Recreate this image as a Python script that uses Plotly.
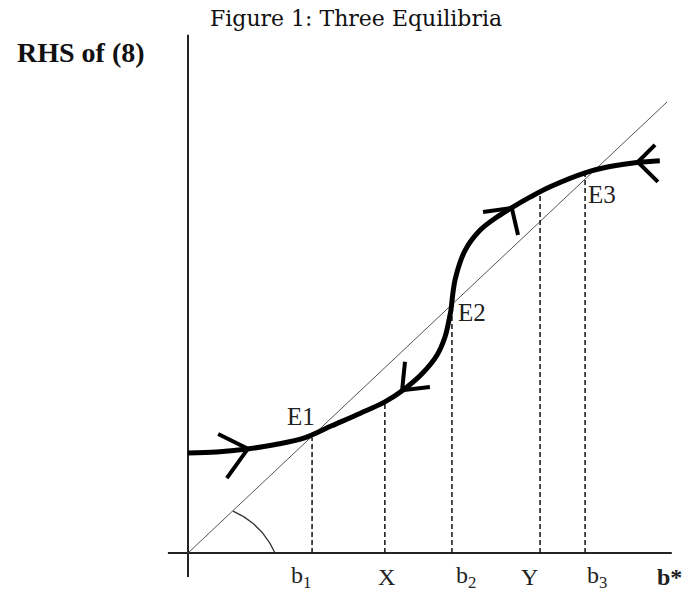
import numpy as np
import plotly.graph_objects as go

# ---- Data (diagram units: origin at axes crossing, 45-degree line is y = x) ----
title_text = "Figure 1: Three Equilibria"
y_axis_label = "RHS of (8)"
x_axis_label = "b*"

# thick S-shaped RHS curve
curve_x = [0.0, 6.0, 12.0, 18.0, 24.0, 30.0, 36.0, 41.1, 45.0, 49.0, 52.0, 53.65, 54.5, 54.9,
           55.3, 55.8, 57.8, 61.0, 64.5, 67.8, 71.4, 75.6, 82.9, 88.1, 93.7, 98.5]
curve_y = [22.2, 22.4, 23.0, 24.0, 25.4, 28.2, 31.0, 33.5, 36.2, 39.9, 43.9, 47.9, 51.7, 53.9,
           57.6, 60.8, 67.0, 71.6, 74.5, 76.7, 78.9, 81.2, 84.3, 85.7, 86.6, 87.0]

# 45-degree line
diag_x = [0, 100]
diag_y = [0, 100]

# arrowheads on curve: (arm1, vertex, arm2)
arrow_heads = [
    ([6.3, 12.5, 8.1], [26.4, 23.1, 16.6]),
    ([45.3, 44.7, 50.5], [42.4, 36.1, 36.8]),
    ([61.6, 67.6, 68.9], [75.6, 76.5, 70.5]),
    ([97.5, 93.9, 98.1], [90.5, 86.7, 82.3]),
]

# dashed drop lines
drop_names = ["b<sub>1</sub>", "X", "b<sub>2</sub>", "Y", "b<sub>3</sub>"]
drop_x = [25.9, 41.1, 55.1, 73.5, 82.9]
drop_top = [25.6, 33.4, 53.4, 79.4, 84.0]
label_x = [23.6, 41.4, 58.0, 71.3, 85.3]

# equilibrium labels
eq_names = ["E1", "E2", "E3"]
eq_x = [23.6, 59.3, 86.4]
eq_y = [30.2, 53.4, 79.4]

# axis extents
h_axis_x = [-4.2, 101.0]
v_axis_y = [-5.3, 114.9]

# angle arc (ellipse in diagram units)
arc_center = (2.71, -7.1)
arc_r = (16.83, 17.87)
arc_angles = (23.4, 66.6)

# ---- Figure ----
fig = go.Figure()
serif = "Liberation Serif, Times New Roman, serif"

# axes
fig.add_trace(go.Scatter(x=h_axis_x, y=[0, 0], mode="lines",
                         line=dict(color="#222222", width=2), hoverinfo="skip"))
fig.add_trace(go.Scatter(x=[0, 0], y=v_axis_y, mode="lines",
                         line=dict(color="#222222", width=2), hoverinfo="skip"))
# diagonal
fig.add_trace(go.Scatter(x=diag_x, y=diag_y, mode="lines",
                         line=dict(color="#555555", width=1), hoverinfo="skip"))
# arc
th = np.radians(np.linspace(arc_angles[0], arc_angles[1], 40))
fig.add_trace(go.Scatter(x=arc_center[0] + arc_r[0] * np.cos(th),
                         y=arc_center[1] + arc_r[1] * np.sin(th), mode="lines",
                         line=dict(color="#333333", width=1.3), hoverinfo="skip"))
# dashed drop lines
for xv, top in zip(drop_x, drop_top):
    fig.add_trace(go.Scatter(x=[xv, xv], y=[0, top], mode="lines",
                             line=dict(color="#111111", width=1.5, dash="5px,3px"),
                             hoverinfo="skip"))
# curve
fig.add_trace(go.Scatter(x=curve_x, y=curve_y, mode="lines",
                         line=dict(color="black", width=5, shape="spline", smoothing=1.0),
                         hoverinfo="skip"))
# arrowheads
for ax_, ay_ in arrow_heads:
    fig.add_trace(go.Scatter(x=ax_, y=ay_, mode="lines",
                             line=dict(color="black", width=4), hoverinfo="skip"))

# page offset (browser body margin) in pixels
OFF = 8
W, H = 691, 599

annotations = []
for name, xv in zip(drop_names, label_x):
    annotations.append(dict(x=xv, y=-5.3, text=name, showarrow=False,
                            font=dict(family=serif, size=24, color="#222222"),
                            xanchor="center", yanchor="middle"))
annotations.append(dict(x=100.6, y=-5.3, text="<b>" + x_axis_label + "</b>", showarrow=False,
                        font=dict(family=serif, size=24, color="#222222"),
                        xanchor="center", yanchor="middle"))
for name, xv, yv in zip(eq_names, eq_x, eq_y):
    annotations.append(dict(x=xv, y=yv, text=name, showarrow=False,
                            font=dict(family=serif, size=25, color="#222222"),
                            xanchor="center", yanchor="middle"))
annotations.append(dict(x=(81 - OFF) / W, y=1 - (52 - OFF) / H, xref="paper", yref="paper",
                        text="<b>" + y_axis_label + "</b>", showarrow=False,
                        font=dict(family=serif, size=28, color="#111111"),
                        xanchor="center", yanchor="middle"))
annotations.append(dict(x=(356 - OFF) / W, y=1 - (18 - OFF) / H, xref="paper", yref="paper",
                        text=title_text, showarrow=False,
                        font=dict(family="DejaVu Serif, serif", size=22, color="#111111"),
                        xanchor="center", yanchor="middle"))

fig.update_layout(
    width=W, height=H,
    margin=dict(l=0, r=0, t=0, b=0),
    paper_bgcolor="white", plot_bgcolor="white",
    showlegend=False,
    xaxis=dict(range=[(OFF - 188) / 4.79, (OFF + W - 188) / 4.79], visible=False, fixedrange=True),
    yaxis=dict(range=[(553 - OFF - H) / 4.51, (553 - OFF) / 4.51], visible=False, fixedrange=True),
    annotations=annotations,
)

fig.write_html("out.html")
